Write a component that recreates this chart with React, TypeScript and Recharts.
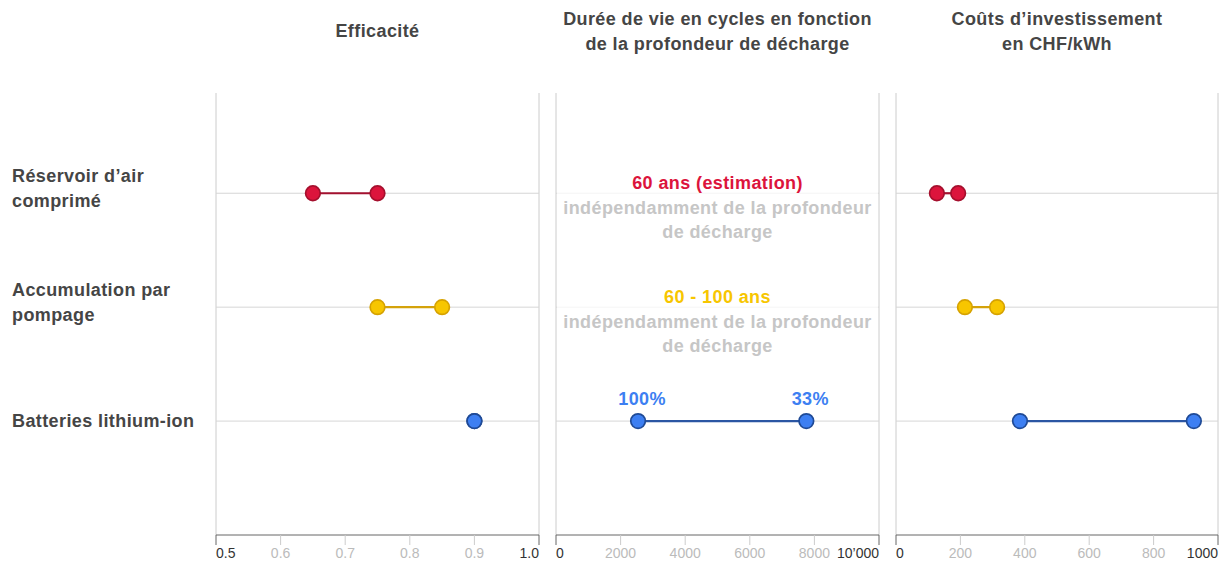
import React from 'react'
import { ScatterChart, Scatter, XAxis, YAxis, ReferenceLine } from 'recharts'

const categoryLines = [['Réservoir d’air', 'comprimé'], ['Accumulation par', 'pompage'], ['Batteries lithium-ion']]
const rowIds = [1, 2, 3]

const efficiencyMin = [0.65, 0.75, 0.9]
const efficiencyMax = [0.75, 0.85, 0.9]
const efficiencyTicks = [0.5, 0.6, 0.7, 0.8, 0.9, 1.0]

// cycles only known for batteries; the other rows get text notes
const cyclesMin = [null, null, 2540]
const cyclesMax = [null, null, 7750]
const cyclesPointLabels = ['100%', '33%']
const cyclesNotes = ['60 ans (estimation)', '60 - 100 ans']
const cyclesNoteSub = ['indépendamment de la profondeur', 'de décharge']
const cyclesTicks = [0, 2000, 4000, 6000, 8000, 10000]

const costMin = [127, 214, 385]
const costMax = [193, 314, 925]
const costTicks = [0, 200, 400, 600, 800, 1000]

const FONT = '"Liberation Sans", Arial, Helvetica, sans-serif'
const TEXT = '#454545'
const BOLD_SIZE = 18
const SPACING = 0.4

const palette = [
  { fill: '#dc143c', stroke: '#a50f2d', line: '#a3112f' },
  { fill: '#f7c600', stroke: '#d6a200', line: '#d4a20a' },
  { fill: '#3d7ff2', stroke: '#1f4a96', line: '#2b56a3' },
]

const PLOT_TOP = 93
const CHART_H = 564
const AXIS_H = 29
const Y_DOMAIN: [number, number] = [0.12, 4]

function rows(min: (number | null)[], max: (number | null)[], i: number, labels?: string[]) {
  if (min[i] == null || max[i] == null) return []
  return [
    { x: min[i], y: rowIds[i], label: labels ? labels[0] : undefined },
    { x: max[i], y: rowIds[i], label: labels ? labels[1] : undefined },
  ]
}

function Dot(props: any) {
  const { cx, cy, fill, stroke, payload } = props
  return (
    <g>
      <circle cx={cx} cy={cy} r={7.3} fill={fill} stroke={stroke} strokeWidth={1.7} />
      {payload && payload.label ? (
        <text
          x={cx + 4}
          y={cy - 16}
          textAnchor="middle"
          fill={fill}
          fontFamily={FONT}
          fontWeight="bold"
          fontSize={BOLD_SIZE}
          letterSpacing={SPACING}
        >
          {payload.label}
        </text>
      ) : null}
    </g>
  )
}

function makeTick(ticks: number[], fmt: (v: number) => string) {
  return (props: any) => {
    const { x, y, payload } = props
    const v = payload.value
    const first = v === ticks[0]
    const last = v === ticks[ticks.length - 1]
    const edge = first || last
    return (
      <g>
        <line x1={x} x2={x} y1={y} y2={y + 10} stroke={edge ? '#666' : '#ccc'} strokeWidth={1} />
        <text
          x={x}
          y={y + 23}
          textAnchor={first ? 'start' : last ? 'end' : 'middle'}
          fill={edge ? '#333' : '#bbb'}
          fontFamily={FONT}
          fontSize={14}
        >
          {fmt(v)}
        </text>
      </g>
    )
  }
}

function CategoryTick(props: any) {
  const { y, payload } = props
  const lines = categoryLines[rowIds.indexOf(payload.value)] || []
  const start = lines.length > 1 ? y - 17 : y
  return (
    <g>
      {lines.map((t, k) => (
        <text
          key={k}
          x={12}
          y={start + k * 25}
          dy={6}
          fill={TEXT}
          fontFamily={FONT}
          fontWeight="bold"
          fontSize={BOLD_SIZE}
          letterSpacing={SPACING}
        >
          {t}
        </text>
      ))}
    </g>
  )
}

function NoteLabel(i: number) {
  return (props: any) => {
    const vb = props.viewBox || {}
    const cx = vb.x + vb.width / 2
    const y = vb.y
    return (
      <g>
        <rect x={vb.x + 1} y={y - 26} width={vb.width - 2} height={80} fill="#fff" fillOpacity={0.75} />
        <text
          x={cx}
          y={y - 4}
          textAnchor="middle"
          fill={palette[i].fill}
          fontFamily={FONT}
          fontWeight="bold"
          fontSize={BOLD_SIZE}
          letterSpacing={SPACING}
        >
          {cyclesNotes[i]}
        </text>
        {cyclesNoteSub.map((t, k) => (
          <text
            key={k}
            x={cx}
            y={y + 21 + k * 24}
            textAnchor="middle"
            fill="#c6c6c6"
            fontFamily={FONT}
            fontWeight="bold"
            fontSize={BOLD_SIZE}
            letterSpacing={SPACING}
          >
            {t}
          </text>
        ))}
      </g>
    )
  }
}

interface PanelProps {
  left: number
  width: number
  margin: { top: number; right: number; bottom: number; left: number }
  ticks: number[]
  fmt: (v: number) => string
  min: (number | null)[]
  max: (number | null)[]
  showCategories?: boolean
  notes?: boolean
  pointLabels?: string[]
}

function Panel({ left, width, margin, ticks, fmt, min, max, showCategories, notes, pointLabels }: PanelProps) {
  const domain: [number, number] = [ticks[0], ticks[ticks.length - 1]]
  return (
    <div style={{ position: 'absolute', left, top: 0 }}>
      <ScatterChart width={width} height={CHART_H} margin={margin}>
        <XAxis
          type="number"
          dataKey="x"
          domain={domain}
          ticks={ticks}
          interval={0}
          height={AXIS_H}
          axisLine={{ stroke: '#666' }}
          tickLine={false}
          tickSize={0}
          tickMargin={0}
          tick={makeTick(ticks, fmt)}
          allowDataOverflow
        />
        <YAxis
          type="number"
          dataKey="y"
          domain={Y_DOMAIN}
          reversed
          ticks={rowIds}
          hide={!showCategories}
          width={showCategories ? 216 : 0}
          axisLine={false}
          tickLine={false}
          tick={CategoryTick}
        />
        <ReferenceLine x={domain[0]} stroke="#ccc" />
        <ReferenceLine x={domain[1]} stroke="#ccc" />
        {rowIds.map((r, i) => (
          <ReferenceLine
            key={r}
            y={r}
            stroke="#d6d6d6"
            label={notes && min[i] == null ? NoteLabel(i) : undefined}
          />
        ))}
        {rowIds.map((r, i) => (
          <Scatter
            key={r}
            data={rows(min, max, i, i === 2 ? pointLabels : undefined)}
            fill={palette[i].fill}
            stroke={palette[i].stroke}
            line={{ stroke: palette[i].line, strokeWidth: 2.2 }}
            shape={Dot}
            isAnimationActive={false}
          />
        ))}
      </ScatterChart>
    </div>
  )
}

const titleStyle: React.CSSProperties = {
  position: 'absolute',
  textAlign: 'center',
  fontFamily: FONT,
  fontWeight: 'bold',
  fontSize: BOLD_SIZE,
  letterSpacing: SPACING,
  lineHeight: '25px',
  color: TEXT,
}

export default function App() {
  return (
    <div style={{ position: 'absolute', left: 0, top: 0, width: 1224, height: 564, background: '#fff', overflow: 'hidden' }}>
      <div style={{ ...titleStyle, left: 216, width: 323, top: 19 }}>Efficacité</div>
      <div style={{ ...titleStyle, left: 536, width: 363, top: 7 }}>
        Durée de vie en cycles en fonction
        <br />
        de la profondeur de décharge
      </div>
      <div style={{ ...titleStyle, left: 896, width: 322, top: 7 }}>
        Coûts d’investissement
        <br />
        en CHF/kWh
      </div>
      <Panel
        left={0}
        width={559}
        margin={{ top: PLOT_TOP, right: 20, bottom: 0, left: 0 }}
        ticks={efficiencyTicks}
        fmt={(v) => v.toFixed(1)}
        min={efficiencyMin}
        max={efficiencyMax}
        showCategories
      />
      <Panel
        left={536}
        width={363}
        margin={{ top: PLOT_TOP, right: 20, bottom: 0, left: 20 }}
        ticks={cyclesTicks}
        fmt={(v) => (v === 10000 ? '10’000' : String(v))}
        min={cyclesMin}
        max={cyclesMax}
        notes
        pointLabels={cyclesPointLabels}
      />
      <Panel
        left={876}
        width={348}
        margin={{ top: PLOT_TOP, right: 6, bottom: 0, left: 20 }}
        ticks={costTicks}
        fmt={(v) => String(v)}
        min={costMin}
        max={costMax}
      />
    </div>
  )
}
